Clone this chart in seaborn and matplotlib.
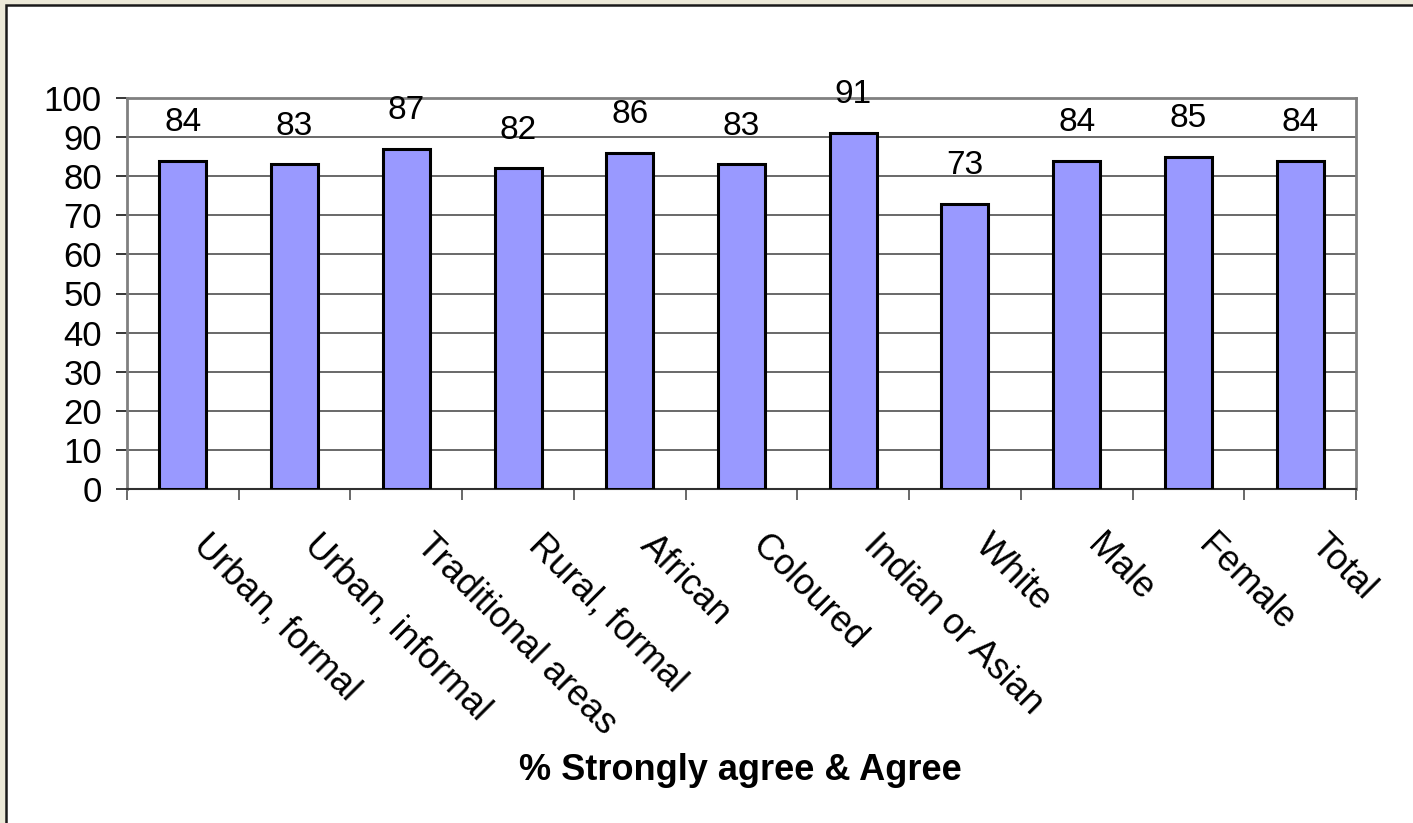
import matplotlib
matplotlib.use("Agg")
import matplotlib.pyplot as plt
import matplotlib.transforms as mtransforms
from matplotlib.patches import Rectangle
import seaborn as sns
import pandas as pd

# Survey results: share who strongly agree or agree, by group
categories = ["Urban, formal", "Urban, informal", "Traditional areas", "Rural, formal",
              "African", "Coloured", "Indian or Asian", "White", "Male", "Female", "Total"]
values = [84, 83, 87, 82, 86, 83, 91, 73, 84, 85, 84]
y_ticks = [0, 10, 20, 30, 40, 50, 60, 70, 80, 90, 100]
axis_title = "% Strongly agree & Agree"

sns.set_theme(style="white")
plt.rcParams["font.family"] = ["Liberation Sans", "DejaVu Sans"]

W, H = 1413, 823
fig = plt.figure(figsize=(W / 100, H / 100), dpi=100)
fig.patch.set_facecolor("#ECE9D8")

# white chart area with a dark frame on its top/left edges
fig.patches.append(Rectangle((6 / W, -0.1), 1.2, (H - 5) / H + 0.1,
                             transform=fig.transFigure, facecolor="white",
                             edgecolor="#1a1a1a", linewidth=1.8, zorder=-10))

ax = fig.add_axes([127 / W, (H - 489) / H, (1356 - 127) / W, (489 - 98) / H])
ax.set_zorder(5)
ax.set_facecolor("white")

df = pd.DataFrame({"group": categories, "pct": values})
sns.barplot(data=df, x="group", y="pct", order=categories, color="#9999FF",
            saturation=1, width=0.42, edgecolor="black", linewidth=2.2, ax=ax, zorder=3)

ax.set_ylim(0, 100)
ax.set_xlim(-0.5, len(categories) - 0.5)
ax.set_yticks(y_ticks)
ax.set_yticklabels([str(t) for t in y_ticks], fontsize=25, color="black")
ax.yaxis.grid(True, color="#404040", linewidth=1.1, zorder=0)
ax.set_axisbelow(True)

for side in ["top", "right", "left"]:
    ax.spines[side].set_visible(True)
    ax.spines[side].set_color("#808080")
    ax.spines[side].set_linewidth(2)
ax.spines["bottom"].set_color("#303030")
ax.spines["bottom"].set_linewidth(1.5)

ax.tick_params(axis="y", direction="out", length=8, width=1.1, color="black", pad=10, left=True)

# category ticks sit between the bars
ax.set_xticks([i + 0.5 for i in range(-1, len(categories))], minor=True)
ax.tick_params(axis="x", which="minor", direction="out", length=8, width=1.1,
               color="#404040", bottom=True)
ax.tick_params(axis="x", which="major", length=0, pad=28)
ax.set_xticks(range(len(categories)))
ax.set_xticklabels(categories, fontsize=26, rotation=-45, rotation_mode="anchor",
                   ha="left", va="top", color="black")
shift = mtransforms.ScaledTranslation(28 / 100, 0, fig.dpi_scale_trans)
for lbl in ax.get_xticklabels():
    lbl.set_transform(lbl.get_transform() + shift)

ax.set_xlabel("")
ax.set_ylabel("")

# value labels above each bar
for i, v in enumerate(values):
    ax.annotate(str(v), xy=(i, v), xytext=(0, 21.5), textcoords="offset points",
                ha="center", va="baseline", fontsize=24, color="black",
                annotation_clip=False)

fig.text(740 / W, 1 - 780 / H, axis_title, ha="center", va="baseline",
         fontsize=26, fontweight="bold", color="black")

fig.savefig("out.png", dpi=100, facecolor=fig.get_facecolor())
